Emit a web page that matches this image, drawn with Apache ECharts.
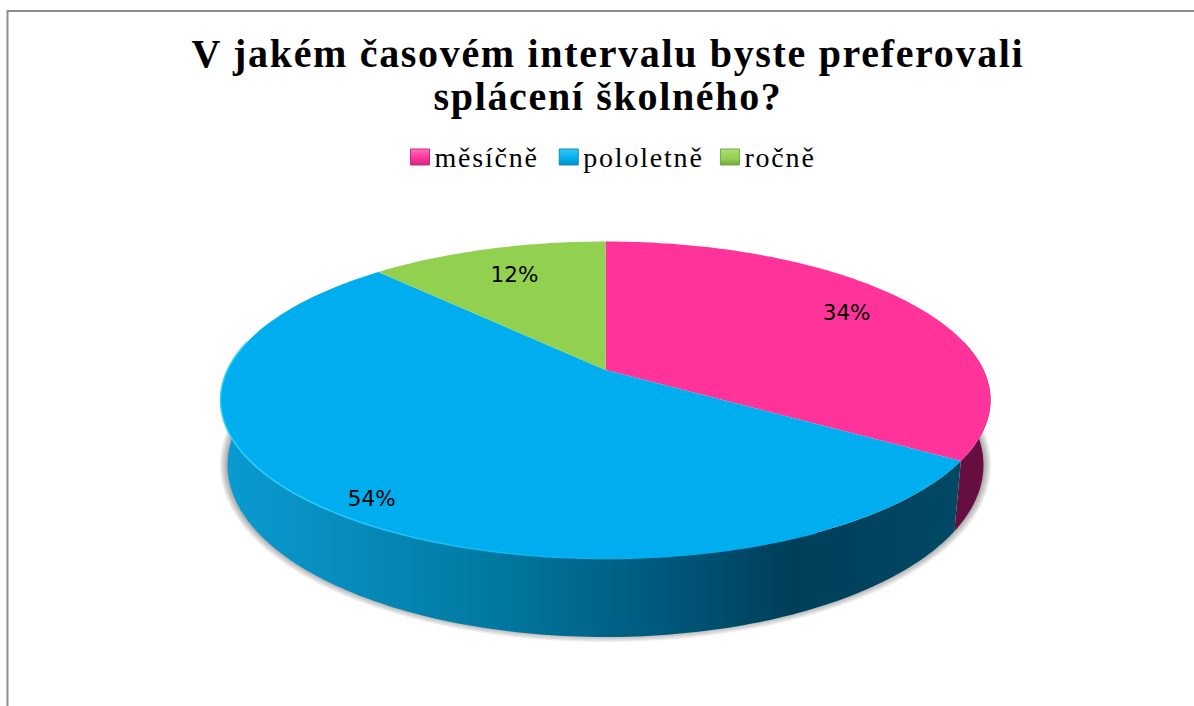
<!DOCTYPE html>
<html>
<head>
<meta charset="utf-8">
<style>
  html, body { margin: 0; padding: 0; background: #fff; }
  #chart { width: 1194px; height: 706px; }
  /* the original text is letter spaced, only the svg renderer lets css do that */
  #chart text[style*="Liberation"] { letter-spacing: 1.8px; }
  #chart text[style*="bold"] { letter-spacing: 1.67px; }
</style>
<script src="https://cdn.jsdelivr.net/npm/echarts@6/dist/echarts.min.js"></script>
</head>
<body>
<div id="chart"></div>
<script>
var titleText = 'V jakém časovém intervalu byste preferovali\nsplácení školného?';
var categories = ['měsíčně', 'pololetně', 'ročně'];
var values = [34, 54, 12];
var topColors = ['#FF3399', '#00AEEF', '#92D050'];
var iconLight = ['#FF6CBB', '#35C4F5', '#AEDD78'];
var iconDark = ['#CC2A7E', '#0A8CC0', '#74A83E'];

var total = values.reduce(function (a, b) { return a + b; }, 0);

// top face and foot of the disc, a = perspective shift of the pie centre
var topFace = { cx: 605.5, cy: 400, rx: 385, ry: 158.5 };
var footFace = { cx: 605.5, cy: 465, rx: 378, ry: 172 };
var shadowFace = { cx: 605.5, cy: 465, rx: 378.5, ry: 170 };
var a = -0.19;
var labelRadius = [0.78, 0.9, 0.74];
var labelShift = [[0, -4], [16, 7], [0, -2]];

function project(face, r, deg) {
  var t = deg * Math.PI / 180;
  var u = r * Math.sin(t), v = -r * Math.cos(t);
  var d = 1 + a * v;
  return [
    face.cx + face.rx * u * Math.sqrt(1 - a * a) / d,
    face.cy + face.ry * (v + a) / d
  ];
}

function startAngle(i) {
  var sum = 0;
  for (var k = 0; k < i; k++) sum += values[k];
  return sum / total * 360;
}

function arc(face, from, to) {
  var pts = [];
  var n = Math.max(2, Math.ceil(Math.abs(to - from)));
  for (var k = 0; k <= n; k++) pts.push(project(face, 1, from + (to - from) * k / n));
  return pts;
}

// front of the disc is visible between these two angles
var frontStart = 180 - Math.acos(a) * 180 / Math.PI;
var frontEnd = 360 - frontStart;

function wallPoints(from, to) {
  return arc(topFace, from, to).concat(arc(footFace, from, to).reverse());
}

function wallFill(i) {
  if (i === 0) return '#660E3F';
  return new echarts.graphic.LinearGradient(222, 0, 990, 0, [
    { offset: 0, color: '#0A9BD2' },
    { offset: 0.16, color: '#078CBC' },
    { offset: 0.36, color: '#00789F' },
    { offset: 0.56, color: '#005A7F' },
    { offset: 0.74, color: '#003F5A' },
    { offset: 1, color: '#004A66' }
  ], true);
}

function renderWall(params, api) {
  var i = params.dataIndex;
  var from = Math.max(startAngle(i), frontStart);
  var to = Math.min(startAngle(i) + api.value(0) / total * 360, frontEnd);
  var children = [];
  if (i === 0) {
    // soft shadow under the foot, a few wide see-through strokes
    [14, 11, 8, 5, 2].forEach(function (w) {
      children.push({
        type: 'polyline',
        shape: { points: arc(shadowFace, frontStart - 4, frontEnd + 4) },
        style: { fill: 'none', stroke: 'rgba(0,0,0,0.07)', lineWidth: w, lineCap: 'round' }
      });
    });
  }
  if (to > from) {
    children.push({
      type: 'polygon',
      shape: { points: wallPoints(from, to) },
      style: { fill: wallFill(i) }
    });
  }
  return { type: 'group', children: children };
}

function renderTop(params, api) {
  var i = params.seriesIndex - 1;
  var from = startAngle(i);
  var sweep = api.value(0) / total * 360;
  var labelPos = project(topFace, labelRadius[i], from + sweep / 2);
  var children = [{
    type: 'polygon',
    shape: { points: [project(topFace, 0, 0)].concat(arc(topFace, from, from + sweep)) },
    style: { fill: topColors[i] }
  }];
  if (i === 1) {
    // lighter rim on the lit side
    children.push({
      type: 'polyline',
      shape: { points: arc(topFace, from + 30, frontEnd) },
      style: {
        fill: 'none',
        lineWidth: 1.5,
        stroke: new echarts.graphic.LinearGradient(222, 0, 640, 0, [
          { offset: 0, color: '#35D0FF' },
          { offset: 1, color: '#00AEEF' }
        ], true)
      }
    });
  }
  children.push({
    type: 'text',
    style: {
      text: api.value(0) + '%',
      x: labelPos[0] + labelShift[i][0],
      y: labelPos[1] + labelShift[i][1],
      align: 'center',
      verticalAlign: 'middle',
      fill: '#000',
      font: '21.5px DejaVu Sans'
    }
  });
  return { type: 'group', children: children };
}

var series = [{
  name: 'wall',
  type: 'custom',
  coordinateSystem: 'none',
  silent: true,
  z: 1,
  data: values.map(function (v) { return [v]; }),
  renderItem: renderWall
}];
categories.forEach(function (name, i) {
  series.push({
    name: name,
    type: 'custom',
    coordinateSystem: 'none',
    silent: true,
    z: 2,
    itemStyle: { color: topColors[i] },
    data: [[values[i]]],
    renderItem: renderTop
  });
});

var chart = echarts.init(document.getElementById('chart'), null, { renderer: 'svg' });
chart.setOption({
  animation: false,
  backgroundColor: '#fff',
  title: {
    text: titleText,
    left: 603,
    top: 27,
    textAlign: 'center',
    textStyle: {
      fontFamily: 'Liberation Serif',
      fontWeight: 'bold',
      fontSize: 40,
      lineHeight: 43,
      color: '#000'
    }
  },
  legend: {
    data: categories.map(function (name, i) {
      return {
        name: name,
        itemStyle: {
          color: new echarts.graphic.LinearGradient(0, 0, 0, 1, [
            { offset: 0, color: iconLight[i] },
            { offset: 0.6, color: topColors[i] },
            { offset: 1, color: iconDark[i] }
          ]),
          borderColor: iconDark[i],
          borderWidth: 1
        }
      };
    }),
    left: 405,
    top: 138,
    icon: 'rect',
    itemWidth: 19,
    itemHeight: 16,
    itemGap: 32.5,
    textStyle: {
      fontFamily: 'Liberation Serif',
      fontSize: 28,
      color: '#000'
    }
  },
  graphic: [{
    type: 'polyline',
    silent: true,
    shape: { points: [[7.5, 706], [7.5, 11], [1194, 11]] },
    style: { fill: 'none', stroke: '#8C8C8C', lineWidth: 2 }
  }],
  series: series
});
</script>
</body>
</html>
